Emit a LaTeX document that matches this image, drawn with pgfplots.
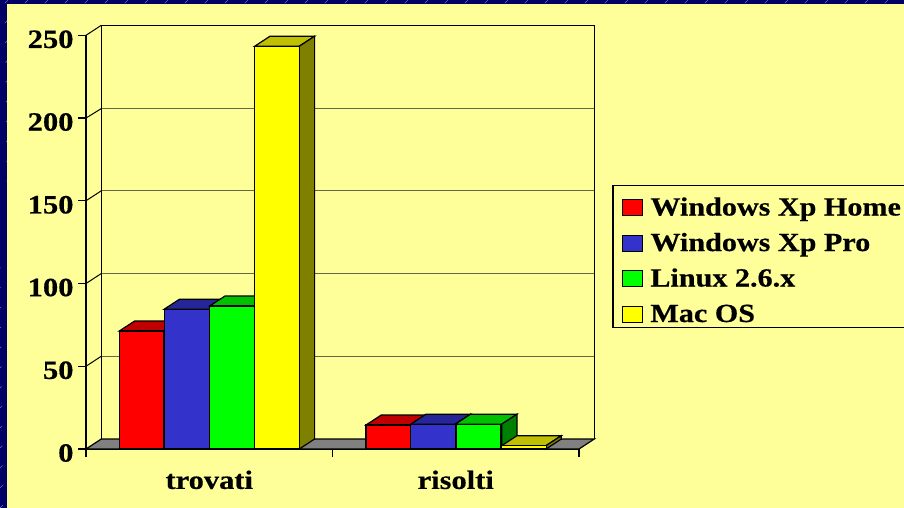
\documentclass[border=0pt]{standalone}
\usepackage{pgfplots}
\pgfplotsset{compat=1.18}
\usepackage{fontspec}
\setmainfont[FakeStretch=1.15,BoldFeatures={FakeBold=0.4}]{Liberation Serif}
\definecolor{bgy}{HTML}{FFFF99}
\definecolor{navy}{HTML}{000066}
\definecolor{wall}{HTML}{66664A}
\definecolor{cred}{HTML}{FF0000}
\definecolor{credt}{HTML}{C00000}
\definecolor{creds}{HTML}{800000}
\definecolor{cblue}{HTML}{3333CC}
\definecolor{cbluet}{HTML}{262699}
\definecolor{cblues}{HTML}{1A1A66}
\definecolor{cgreen}{HTML}{00FF00}
\definecolor{cgreent}{HTML}{00C000}
\definecolor{cgreens}{HTML}{008000}
\definecolor{cyel}{HTML}{FFFF00}
\definecolor{cyelt}{HTML}{C0C000}
\definecolor{cyels}{HTML}{808000}
% x0 x1 x0+d x1+d v v+d topcolour sidecolour
\newcommand\topside[8]{%
  \addplot[draw=black,line width=1.2pt,fill=#7,forget plot] coordinates {(#1,#5)(#2,#5)(#4,#6)(#3,#6)} --cycle;
  \addplot[draw=black,line width=1.2pt,fill=#8,forget plot] coordinates {(#2,0)(#4,6.04)(#4,#6)(#2,#5)} --cycle;
}
\newcommand\front[3]{%
  \addplot[ybar,bar width=44.7pt,bar shift=0pt,draw=black,line width=1.2pt,fill=#2,forget plot,#3] coordinates {#1};
}
\pgfplotsset{
  swatch/.style={legend image code/.code={%
    \path[draw=none] (0pt,0pt) -- (27.5pt,0pt);
    \draw[draw=black,line width=1pt,fill=#1] (0pt,-12.5pt) rectangle (20pt,3.5pt);}},
}
\begin{document}
\begin{tikzpicture}[x=1pt,y=1pt]
\useasboundingbox (0,0) rectangle (904,508);
\fill[navy] (0,0) rectangle (904,508);
\begin{scope}
\clip (0,0) rectangle (904,508);
\foreach \k in {-500,-480,...,920} {
  \draw[draw=navy!55!white,line width=0.6pt,dash pattern=on 4pt off 10pt] (\k,0) -- ++(508,508);
}
\end{scope}
\fill[bgy] (7,0) rectangle (904,504);
\begin{scope}
\clip (0,0) rectangle (904,508);
\begin{axis}[
  at={(86pt,59pt)},anchor=south west,
  scale only axis,width=493pt,height=413.7pt,
  xmin=0,xmax=493,ymin=0,ymax=250,
  clip=false,
  axis x line*=bottom,axis y line*=left,
  axis line style={black,line width=1.2pt,-},
  tick style={black,line width=1.2pt},
  major tick length=8pt,
  tick align=outside,
  xtick={0,246.5,493},xticklabels={},
  extra x ticks={123.25,369.75},
  extra x tick labels={trovati,risolti},
  extra x tick style={major tick length=0pt},
  ytick={0,50,100,150,200,250},
  yticklabel style={font=\fontsize{26.5}{28}\selectfont\bfseries,/pgf/number format/assume math mode=true,xshift=-1pt,yshift=-4pt},
  xticklabel style={font=\fontsize{26.5}{28}\selectfont\bfseries,yshift=-18pt},
  legend style={at={(axis cs:526.3,159.4)},anchor=north west,
    draw=black,line width=1.2pt,fill=none,
    inner xsep=9.5pt,inner ysep=4pt,
    row sep=8.3pt,
    cells={anchor=west},
    font=\fontsize{26.2}{28}\selectfont\bfseries,
    nodes={text height=25.7pt,text depth=1.5pt,inner sep=0pt},
  },
  legend cell align=left,
]
% floor
\addplot[draw=black,line width=1.2pt,fill=gray,forget plot] coordinates {(0,0)(493,0)(508.3,6.04)(15.3,6.04)} --cycle;
% back wall gridlines
\addplot[draw=wall,line width=1.3pt,forget plot] coordinates {(15.3,56.04)(508.3,56.04)};
\addplot[draw=wall,line width=1.3pt,forget plot] coordinates {(15.3,106.04)(508.3,106.04)};
\addplot[draw=wall,line width=1.3pt,forget plot] coordinates {(15.3,156.04)(508.3,156.04)};
\addplot[draw=wall,line width=1.3pt,forget plot] coordinates {(15.3,205.7)(508.3,205.7)};
\addplot[draw=black,line width=1.3pt,forget plot] coordinates {(15.3,256.04)(508.3,256.04)};
% walls and left diagonals
\addplot[draw=black,line width=1.2pt,forget plot] coordinates {(15.3,6.04)(15.3,256.04)};
\addplot[draw=black,line width=1.2pt,forget plot] coordinates {(508.3,6.04)(508.3,256.04)};
\addplot[draw=black,line width=1pt,forget plot] coordinates {(0,50)(15.3,56.04)};
\addplot[draw=black,line width=1pt,forget plot] coordinates {(0,100)(15.3,106.04)};
\addplot[draw=black,line width=1pt,forget plot] coordinates {(0,150)(15.3,156.04)};
\addplot[draw=black,line width=1pt,forget plot] coordinates {(0,200)(15.3,205.7)};
\addplot[draw=black,line width=1pt,forget plot] coordinates {(0,250)(15.3,256.04)};
% group 1
\topside{33.3}{78}{48.6}{93.3}{71.3}{77.34}{credt}{creds}
\front{(55.65,71.3)}{cred}{}
\topside{78}{123.7}{93.3}{139}{84.4}{90.44}{cbluet}{cblues}
\front{(100.85,84.4)}{cblue}{}
\topside{123.7}{168.7}{139}{184}{86.4}{92.44}{cgreent}{cgreens}
\front{(146.2,86.4)}{cgreen}{}
\topside{168.7}{213.3}{184}{228.6}{243.4}{249.44}{cyelt}{cyels}
\front{(191,243.4)}{cyel}{}
% group 2
\topside{280}{324.7}{295.3}{340}{14.5}{20.54}{credt}{creds}
\front{(302.35,14.5)}{cred}{}
\topside{324.7}{369.3}{340}{384.6}{15}{21.04}{cbluet}{cblues}
\front{(347,15)}{cblue}{}
\topside{369.3}{415.7}{384.6}{431}{15}{21.04}{cgreent}{cgreens}
\front{(392.5,15)}{cgreen}{}
\topside{415.7}{460}{431}{475.3}{2}{8.04}{cyelt}{cyels}
\front{(437.85,2)}{cyel}{}
% legend
\addlegendimage{swatch=cred}\addlegendentry{Windows Xp Home}
\addlegendimage{swatch=cblue}\addlegendentry{Windows Xp Pro}
\addlegendimage{swatch=cgreen}\addlegendentry{Linux 2.6.x}
\addlegendimage{swatch=cyel}\addlegendentry{Mac OS}
\end{axis}
\end{scope}
\end{tikzpicture}
\end{document}
